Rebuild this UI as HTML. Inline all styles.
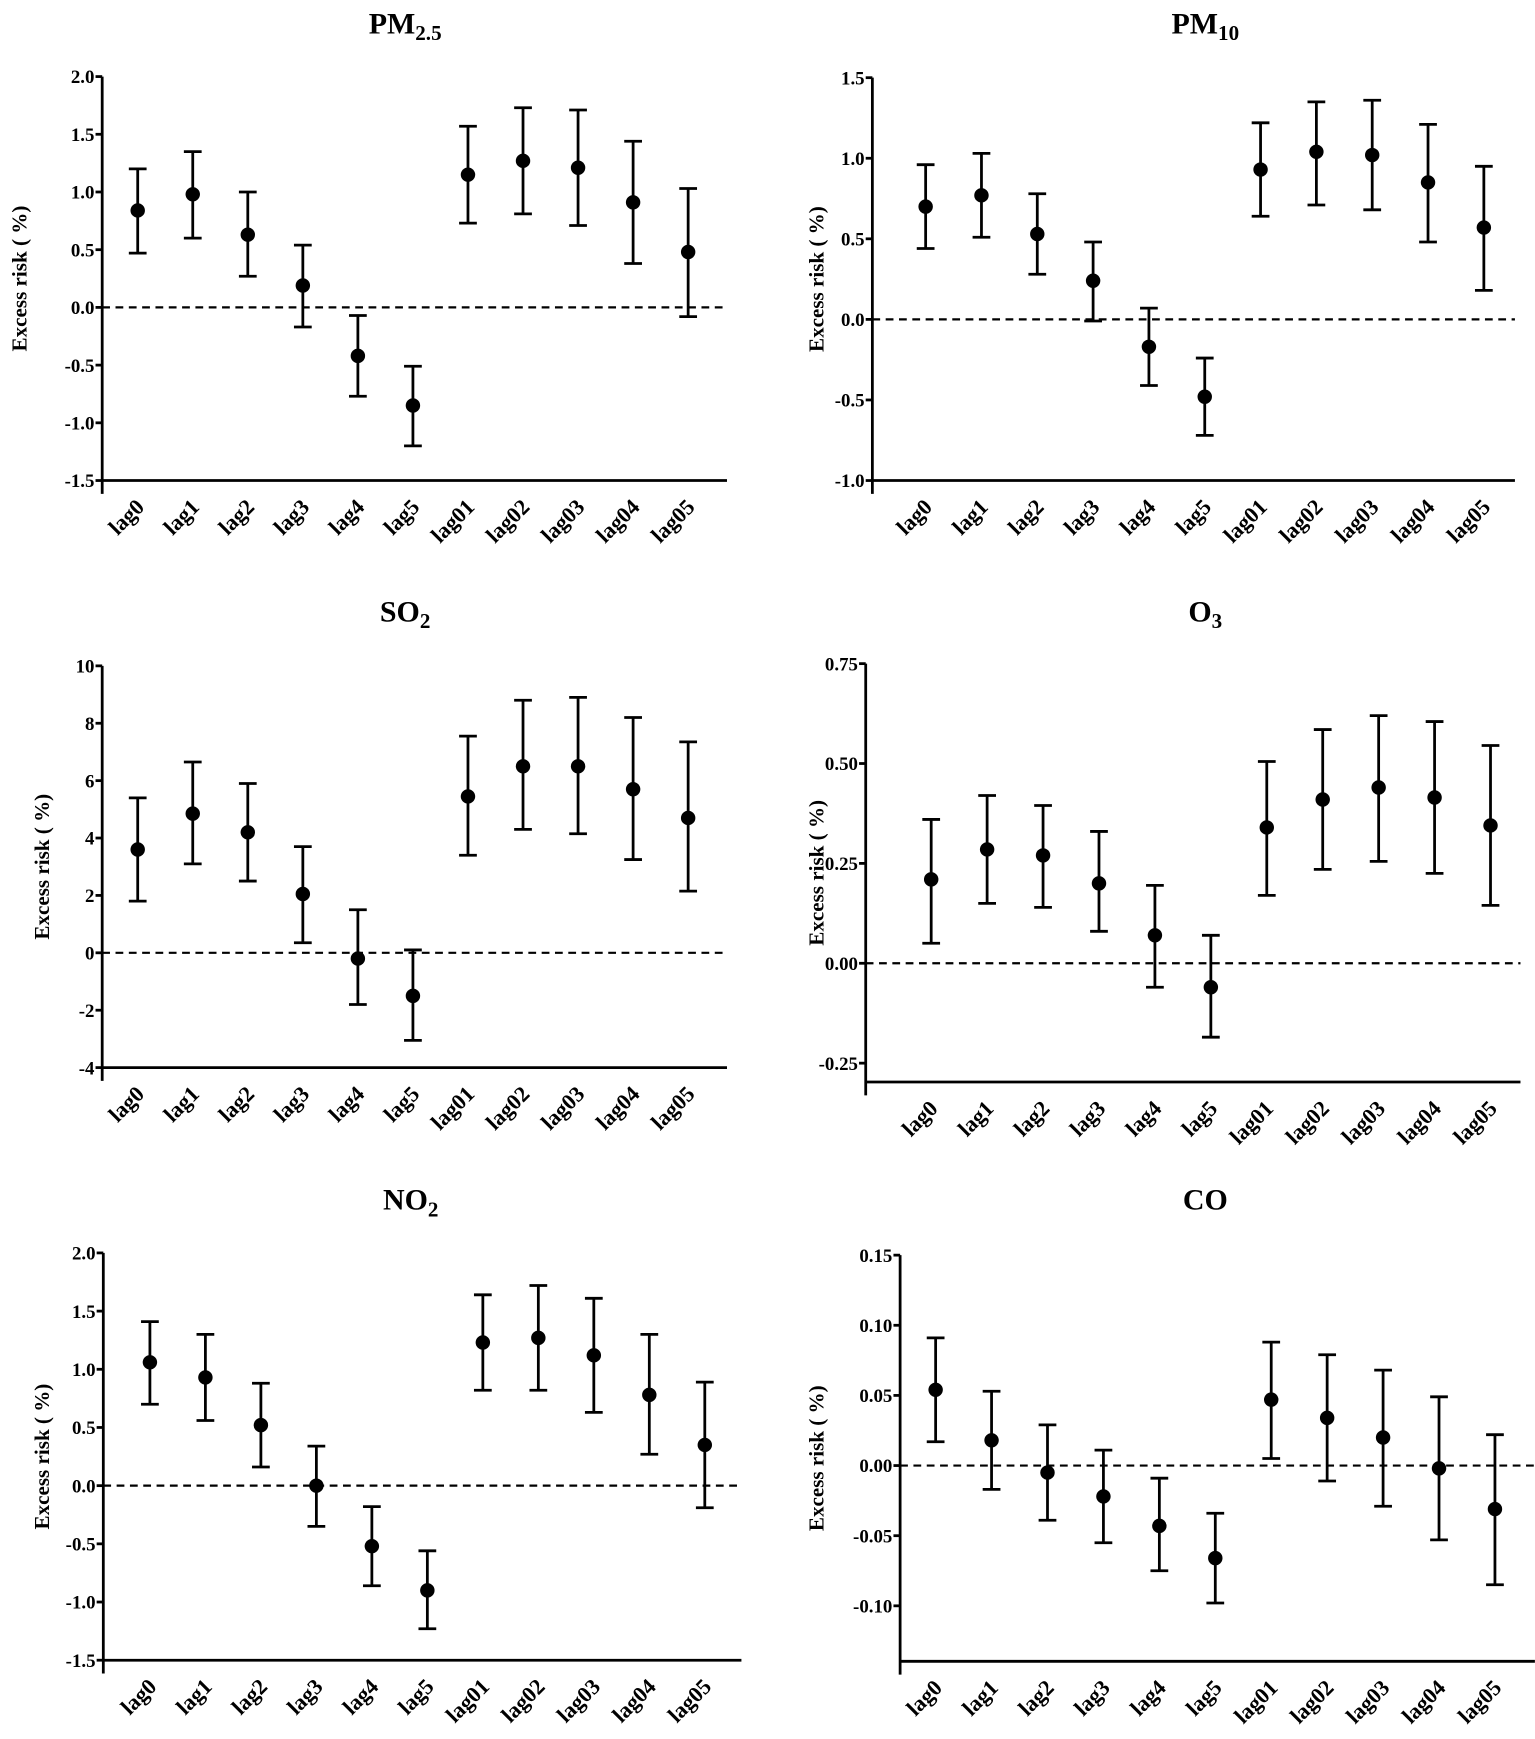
<!DOCTYPE html><html><head><meta charset="utf-8"><style>html,body{margin:0;padding:0;background:#fff}svg{display:block}</style></head><body>
<svg id="s" width="1535" height="1739" viewBox="0 0 1383 1567" xmlns="http://www.w3.org/2000/svg" font-family="Liberation Serif, serif" font-weight="bold"></svg>
<script>
const P=[
{t:'PM',sub:'2.5',tx:365,ty:30,ax:92,x0:124,dx:49.6,xr:655,ytop:69,ybot:433,vmax:2,vmin:-1.5,ticks:[2,1.5,1,0.5,0,-0.5,-1,-1.5],fmt:1,xay:433,lx:17,
d:[[0.84,0.47,1.20],[0.98,0.60,1.35],[0.63,0.27,1.00],[0.19,-0.17,0.54],[-0.42,-0.77,-0.07],[-0.85,-1.20,-0.51],[1.15,0.73,1.57],[1.27,0.81,1.73],[1.21,0.71,1.71],[0.91,0.38,1.44],[0.48,-0.08,1.03]]},
{t:'PM',sub:'10',tx:1086,ty:30,ax:786,x0:834,dx:50.3,xr:1365,ytop:70,ybot:433,vmax:1.5,vmin:-1,ticks:[1.5,1,0.5,0,-0.5,-1],fmt:1,xay:433,lx:735,
d:[[0.70,0.44,0.96],[0.77,0.51,1.03],[0.53,0.28,0.78],[0.24,-0.01,0.48],[-0.17,-0.41,0.07],[-0.48,-0.72,-0.24],[0.93,0.64,1.22],[1.04,0.71,1.35],[1.02,0.68,1.36],[0.85,0.48,1.21],[0.57,0.18,0.95]]},
{t:'SO',sub:'2',tx:365,ty:560,ax:92,x0:124,dx:49.6,xr:655,ytop:600,ybot:962,vmax:10,vmin:-4,ticks:[10,8,6,4,2,0,-2,-4],fmt:0,xay:962,lx:37,
d:[[3.6,1.8,5.4],[4.85,3.1,6.65],[4.2,2.5,5.9],[2.05,0.35,3.7],[-0.2,-1.8,1.5],[-1.5,-3.05,0.1],[5.45,3.4,7.55],[6.5,4.3,8.8],[6.5,4.15,8.9],[5.7,3.25,8.2],[4.7,2.15,7.35]]},
{t:'O',sub:'3',tx:1086,ty:560,ax:780,x0:839,dx:50.4,xr:1370,ytop:598,ybot:958,vmax:0.75,vmin:-0.25,ticks:[0.75,0.5,0.25,0,-0.25],fmt:2,xay:975,lx:735,
d:[[0.21,0.05,0.36],[0.285,0.15,0.42],[0.27,0.14,0.395],[0.20,0.08,0.33],[0.07,-0.06,0.195],[-0.06,-0.185,0.07],[0.34,0.17,0.505],[0.41,0.235,0.585],[0.44,0.255,0.62],[0.415,0.225,0.605],[0.345,0.145,0.545]]},
{t:'NO',sub:'2',tx:370,ty:1090,ax:93,x0:135,dx:50,xr:668,ytop:1129,ybot:1496,vmax:2,vmin:-1.5,ticks:[2,1.5,1,0.5,0,-0.5,-1,-1.5],fmt:1,xay:1496,lx:37,
d:[[1.06,0.70,1.41],[0.93,0.56,1.30],[0.52,0.16,0.88],[0.0,-0.35,0.34],[-0.52,-0.86,-0.18],[-0.90,-1.23,-0.56],[1.23,0.82,1.64],[1.27,0.82,1.72],[1.12,0.63,1.61],[0.78,0.27,1.30],[0.35,-0.19,0.89]]},
{t:'CO',sub:'',tx:1086,ty:1090,ax:811,x0:843,dx:50.4,xr:1383,ytop:1131,ybot:1447,vmax:0.15,vmin:-0.10,ticks:[0.15,0.1,0.05,0,-0.05,-0.1],fmt:2,xay:1497,lx:735,
d:[[0.054,0.017,0.091],[0.018,-0.017,0.053],[-0.005,-0.039,0.029],[-0.022,-0.055,0.011],[-0.043,-0.075,-0.009],[-0.066,-0.098,-0.034],[0.047,0.005,0.088],[0.034,-0.011,0.079],[0.020,-0.029,0.068],[-0.002,-0.053,0.049],[-0.031,-0.085,0.022]]}];
const L=['lag0','lag1','lag2','lag3','lag4','lag5','lag01','lag02','lag03','lag04','lag05'];
let h='';
for(const p of P){
 const Y=v=>p.ytop+(p.vmax-v)/(p.vmax-p.vmin)*(p.ybot-p.ytop);
 h+=`<text x="${p.tx}" y="${p.ty}" font-size="27" text-anchor="middle">${p.t}<tspan font-size="19" dy="6">${p.sub}</tspan></text>`;
 h+=`<line x1="${p.ax}" y1="${p.ytop}" x2="${p.ax}" y2="${p.xay+12}" stroke="#000" stroke-width="2.5"/>`;
 h+=`<line x1="${p.ax}" y1="${p.xay}" x2="${p.xr}" y2="${p.xay}" stroke="#000" stroke-width="2.5"/>`;
 for(const t of p.ticks){const y=Y(t);
  h+=`<line x1="${p.ax-6}" y1="${y}" x2="${p.ax}" y2="${y}" stroke="#000" stroke-width="2.5"/>`;
  h+=`<text x="${p.ax-7}" y="${y+6}" font-size="17" text-anchor="end">${t.toFixed(p.fmt)}</text>`;}
 const y0=Y(0);
 h+=`<line x1="${p.ax}" y1="${y0}" x2="${p.xr}" y2="${y0}" stroke="#000" stroke-width="2" stroke-dasharray="7,5"/>`;
 const cy=(p.ytop+p.xay)/2;
 h+=`<text transform="translate(${p.lx+7},${cy}) rotate(-90)" font-size="19" text-anchor="middle">Excess risk ( %)</text>`;
 p.d.forEach((d,i)=>{const x=p.x0+i*p.dx;
  h+=`<line x1="${x}" y1="${Y(d[1])}" x2="${x}" y2="${Y(d[2])}" stroke="#000" stroke-width="2.5"/>`;
  h+=`<line x1="${x-8}" y1="${Y(d[1])}" x2="${x+8}" y2="${Y(d[1])}" stroke="#000" stroke-width="2.5"/>`;
  h+=`<line x1="${x-8}" y1="${Y(d[2])}" x2="${x+8}" y2="${Y(d[2])}" stroke="#000" stroke-width="2.5"/>`;
  h+=`<circle cx="${x}" cy="${Y(d[0])}" r="6.5" fill="#000"/>`;
  h+=`<text transform="translate(${x+7},${p.xay+25}) rotate(-45)" font-size="20" text-anchor="end">${L[i]}</text>`;
 });
}
document.getElementById('s').innerHTML=h;
</script></body></html>
